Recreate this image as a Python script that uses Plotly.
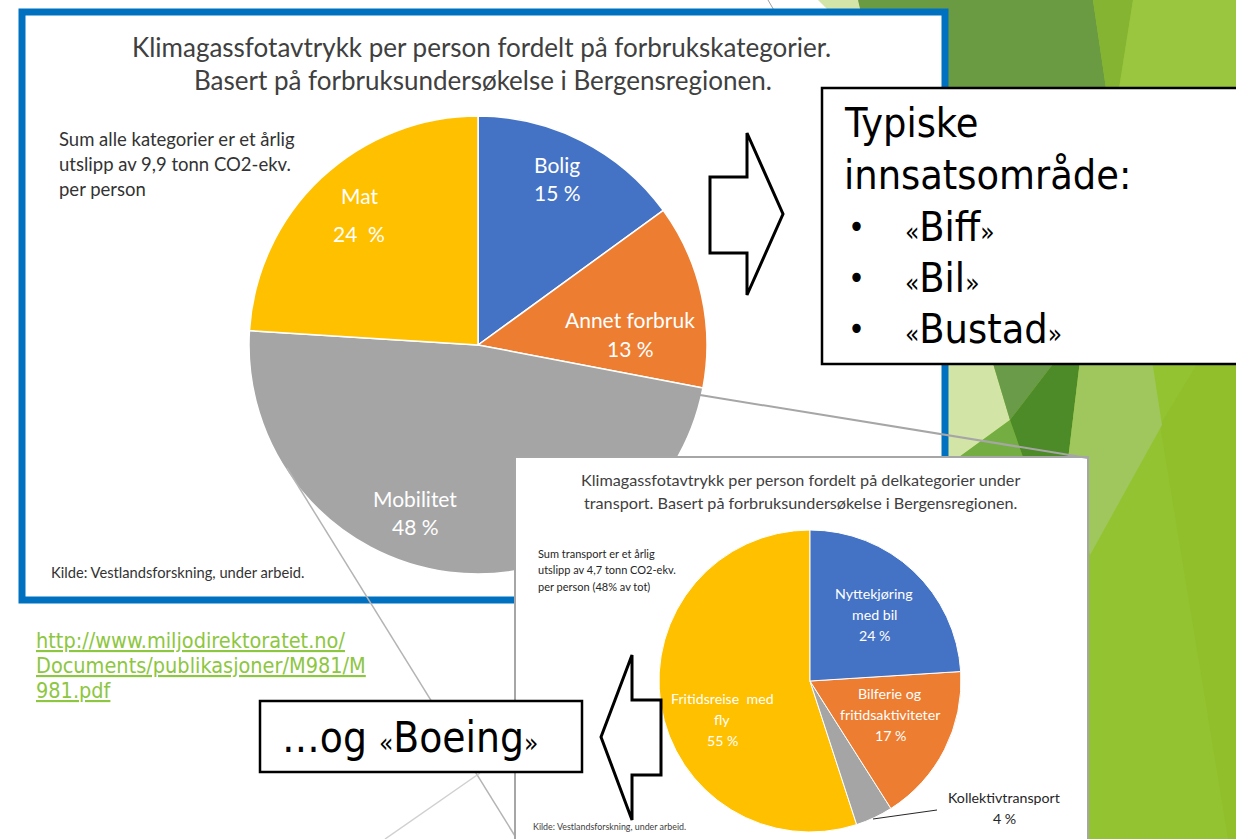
import plotly.graph_objects as go

W, H = 1236, 839

# ---------------- data ----------------
main_labels = ["Bolig", "Annet forbruk", "Mobilitet", "Mat"]
main_values = [15, 13, 48, 24]
main_colors = ["#4472C4", "#ED7D31", "#A5A5A5", "#FFC000"]

sub_labels = ["Nyttekjøring med bil", "Bilferie og fritidsaktiviteter",
              "Kollektivtransport", "Fritidsreise med fly"]
sub_label_lines = [["Nyttekjøring", "med bil"], ["Bilferie og", "fritidsaktiviteter"],
                   ["Kollektivtransport"], ["Fritidsreise  med", "fly"]]
sub_values = [24, 17, 4, 55]
sub_colors = ["#4472C4", "#ED7D31", "#A5A5A5", "#FFC000"]

main_title = ["Klimagassfotavtrykk per person fordelt på forbrukskategorier.",
              "Basert på forbruksundersøkelse i Bergensregionen."]
main_note = ["Sum alle kategorier er et årlig", "utslipp av 9,9 tonn CO2-ekv.", "per person"]
sub_title = ["Klimagassfotavtrykk per person fordelt på delkategorier under",
             "transport. Basert på forbruksundersøkelse i Bergensregionen."]
sub_note = ["Sum transport er et årlig", "utslipp av 4,7 tonn CO2-ekv.", "per person (48% av tot)"]
source = "Kilde: Vestlandsforskning, under arbeid."
link_lines = ["http://www.miljodirektoratet.no/", "Documents/publikasjoner/M981/M", "981.pdf"]
box_lines = ["Typiske", "innsatsområde:"]
box_items = ["Biff", "Bil", "Bustad"]
boeing_text = "Boeing"


# ---------------- helpers ----------------
def px(x):
    return x / W


def py(y):
    return 1 - y / H


def path(pts, close=True):
    s = "M" + " L".join(f"{px(x):.5f},{py(y):.5f}" for x, y in pts)
    return s + (" Z" if close else "")


shapes = []
annotations = []


def poly(pts, color, layer="below"):
    shapes.append(dict(type="path", xref="paper", yref="paper", path=path(pts),
                       fillcolor=color, line=dict(width=0), layer=layer))


def line(p0, p1, color, width, layer="above"):
    shapes.append(dict(type="line", xref="paper", yref="paper",
                       x0=px(p0[0]), y0=py(p0[1]), x1=px(p1[0]), y1=py(p1[1]),
                       line=dict(color=color, width=width), layer=layer))


def txt(x, y, s, size, color="#404040", family="Lato", xanchor="center", **fontkw):
    annotations.append(dict(x=px(x), y=py(y), xref="paper", yref="paper", text=s,
                            showarrow=False, xanchor=xanchor, yanchor="middle",
                            font=dict(size=size, color=color, family=family, **fontkw)))


# ---------------- background facets ----------------
poly([(946, 0), (1236, 0), (1236, 839), (946, 839)], "#94C332")
poly([(1160, 425), (1236, 300), (1236, 839), (1228, 839)], "#90BF2B")
poly([(818, 0), (858, 0), (874, 14), (832, 14)], "#D4E5A9")
poly([(858, 0), (1093, 0), (1107, 95), (880, 95)], "#6A9A42")
poly([(1093, 0), (1133, 0), (1118, 95), (1107, 95)], "#84B432")
poly([(1133, 0), (1236, 0), (1236, 95), (1118, 95)], "#9AC53F")
poly([(946, 360), (992, 360), (1010, 420), (955, 460), (946, 460)], "#D3E4A7")
poly([(992, 360), (1056, 360), (1010, 420)], "#6A9B48")
poly([(1010, 420), (955, 460), (1024, 460)], "#74AE42")
poly([(1056, 360), (1080, 360), (1068, 460), (1024, 460), (1010, 420)], "#4D8A28")
poly([(1080, 360), (1152, 360), (1162, 425), (1090, 555), (1068, 460)], "#9FC75D")
line((768, 0), (775, 12), "#A0A0A0", 1, layer="below")

# main chart frame
shapes.append(dict(type="rect", xref="paper", yref="paper", x0=px(22), x1=px(945),
                   y0=py(600), y1=py(12), fillcolor="white",
                   line=dict(color="#0070C0", width=7), layer="below"))

# ---------------- traces ----------------
fig = go.Figure()

cx1, cy1, r1 = 478, 345, 229
fig.add_trace(go.Pie(
    labels=main_labels, values=main_values, sort=False, direction="clockwise",
    rotation=0, marker=dict(colors=main_colors, line=dict(color="white", width=1.5)),
    textinfo="none", hoverinfo="skip", showlegend=False,
    domain=dict(x=[px(cx1 - r1), px(cx1 + r1)], y=[py(cy1 + r1), py(cy1 - r1)])))

# white panel of the transport chart (drawn above the first pie)
fig.add_trace(go.Treemap(
    labels=["panel"], parents=[""], values=[1],
    marker=dict(colors=["white"], line=dict(width=0)),
    textinfo="none", hoverinfo="skip", pathbar=dict(visible=False),
    domain=dict(x=[px(516), px(1087)], y=[0, py(458)])))

cx2, cy2, r2 = 810, 681, 151
order = [3, 2, 1, 0]
fig.add_trace(go.Sunburst(
    labels=[sub_labels[i] for i in order], parents=[""] * 4,
    values=[sub_values[i] for i in order], sort=False, rotation=90,
    marker=dict(colors=[sub_colors[i] for i in order], line=dict(color="white", width=1)),
    leaf=dict(opacity=1), textinfo="none", hoverinfo="skip",
    domain=dict(x=[px(cx2 - r2), px(cx2 + r2)], y=[py(cy2 + r2), py(cy2 - r2)])))

# ---------------- connectors & boxes (above) ----------------
line((700, 395), (1088, 458), "#A6A6A6", 2)
line((287, 468), (515, 836), "#B4B4B4", 1.5)
line((385, 839), (480, 773), "#D0D0D0", 1.5)
shapes.append(dict(type="path", xref="paper", yref="paper",
                   path=path([(515, 839), (515, 457), (1088, 457), (1088, 839)], close=False),
                   line=dict(color="#A6A6A6", width=2), layer="above"))
line((937, 810), (873, 819), "#262626", 1)

# arrows
shapes.append(dict(type="path", xref="paper", yref="paper", layer="above",
                   path=path([(710, 177), (747, 177), (747, 133), (783, 214), (747, 295),
                              (747, 253), (710, 253)]),
                   fillcolor="white", line=dict(color="black", width=3)))
shapes.append(dict(type="path", xref="paper", yref="paper", layer="above",
                   path=path([(661, 700), (632, 700), (632, 655), (601, 737), (632, 820),
                              (632, 775), (661, 775)]),
                   fillcolor="white", line=dict(color="black", width=3)))
# text boxes
shapes.append(dict(type="rect", xref="paper", yref="paper", layer="above",
                   x0=px(822), x1=px(1240), y0=py(364), y1=py(88),
                   fillcolor="white", line=dict(color="black", width=2.5)))
shapes.append(dict(type="rect", xref="paper", yref="paper", layer="above",
                   x0=px(260), x1=px(582), y0=py(772), y1=py(701),
                   fillcolor="white", line=dict(color="black", width=2.5)))

# ---------------- texts ----------------
# main chart
txt(482, 47, main_title[0], 26)
txt(483, 80, main_title[1], 26)
for i, s in enumerate(main_note):
    txt(57, 139 + 25 * i, s, 18.5, color="#333333", xanchor="left")
txt(49, 572, source, 14.7, color="#333333", xanchor="left")

main_label_pos = [(557, 165, 193), (630, 320, 348), (415, 498, 526), (359, 195, 233)]
for lab, v, (x, y1, y2) in zip(main_labels, main_values, main_label_pos):
    pct = f"{v}  %" if lab == "Mat" else f"{v} %"
    txt(x, y1, lab, 21, color="white")
    txt(x, y2, pct, 21, color="white")

# transport chart
txt(800, 479, sub_title[0], 16.2)
txt(800, 502, sub_title[1], 16.2)
for i, s in enumerate(sub_note):
    txt(536, 553 + 16.5 * i, s, 11, color="#262626", xanchor="left")
txt(531, 826, source, 8.9, color="#404040", xanchor="left")

sub_label_pos = [(874, 593), (890, 693), (1004, 797), (722, 698)]
sub_label_col = ["white", "white", "#262626", "white"]
for lines_, v, (x, y0), col in zip(sub_label_lines, sub_values, sub_label_pos, sub_label_col):
    step = 21
    for j, s in enumerate(lines_ + [f"{v} %"]):
        txt(x, y0 + step * j, s, 14.2, color=col)

# slide text
SF = "DejaVu Sans Condensed, DejaVu Sans"

# link
for i, s in enumerate(link_lines):
    txt(34, 640 + 25 * i, s, 21.5, color="#8DC63F", family=SF, xanchor="left",
        lineposition="under")

q = '<span style="font-size:26px">{}</span>'
txt(842, 123, box_lines[0], 41, color="black", family=SF, xanchor="left")
txt(842, 175, box_lines[1], 41, color="black", family=SF, xanchor="left")
for i, it in enumerate(box_items):
    yy = 227 + 51 * i
    txt(846, yy, "•", 32, color="black", family=SF, xanchor="left")
    txt(903, yy, q.format("«") + it + q.format("»"), 41, color="black", family=SF,
        xanchor="left")
txt(280, 737, "…og " + q.format("«") + boeing_text + q.format("»"), 42, color="black",
    family=SF, xanchor="left")

fig.update_layout(width=W, height=H, margin=dict(l=0, r=0, t=0, b=0),
                  paper_bgcolor="white", plot_bgcolor="white", showlegend=False,
                  shapes=shapes, annotations=annotations)

fig.write_html("out.html", config={"displayModeBar": False},
               post_script="document.body.style.margin='0px';")
